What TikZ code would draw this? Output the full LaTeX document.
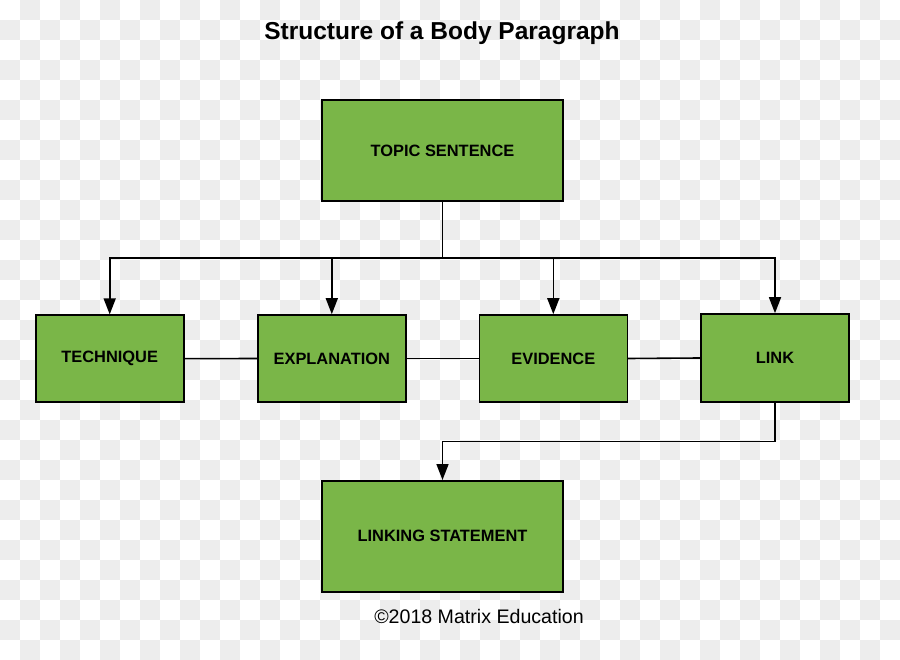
\documentclass[tikz,border=0pt]{standalone}
\usepackage{fontspec}
\setmainfont{Liberation Sans}
\usepackage{tikz}
\usetikzlibrary{arrows.meta,positioning,calc}
\usepackage{xcolor}
\definecolor{boxgreen}{HTML}{7AB648}
\definecolor{checkgray}{HTML}{EDEDED}

\begin{document}
\begin{tikzpicture}[x=1pt, y=-1pt,
    part/.style={draw, fill=boxgreen, line width=1.6pt, minimum width=148pt, minimum height=87pt,
                 font=\bfseries\fontsize{16.4}{19}\selectfont},
    bigpart/.style={part, minimum width=241pt},
    link/.style={line width=1.6pt},
    arr/.style={link, -{Triangle[width=12pt,length=16pt]}}]
                    \useasboundingbox (0,0) rectangle (900,660);
                    \fill[white] (0,0) rectangle (900,660);
                    \foreach \i in {0,...,44}
                      \foreach \j in {0,...,32}
                        {\pgfmathtruncatemacro{\odd}{mod(\i+\j,2)}
                         \ifnum\odd=1 \fill[checkgray] (20*\i,20*\j) rectangle ++(20,20); \fi}
                    \node[anchor=base, font=\bfseries\fontsize{24.5}{28}\selectfont] (Title) at (442,39.3) {Structure of a Body Paragraph};
                    \node[bigpart, minimum height=101pt] (Topic) at (442.5,150.5) {TOPIC SENTENCE};
                    \node[part] (Technique) at (109.7,358.7) {TECHNIQUE};
                    \node[part] (Explanation) at (331.8,358.5) {EXPLANATION};
                    \node[part] (Evidence) at (553.3,358.5) {EVIDENCE};
                    \node[part, minimum height=88pt] (Link) at (775,358) {LINK};
                    \node[bigpart, minimum height=111pt] (Linking) at (442.5,536.3) {LINKING STATEMENT};
                    \node[anchor=base, font=\fontsize{19.6}{23}\selectfont] (Copy) at (479,623) {\textcopyright2018 Matrix Education};
                    \coordinate (Split) at (442.5,258.3);
                    \draw[link] (Topic.south) -- (Split);
                    \draw[arr] (Split) -| (Technique.north);
                    \draw[arr] (Split) -| (Explanation.north);
                    \draw[arr] (Split) -| (Evidence.north);
                    \draw[arr] (Split) -| (Link.north);
                    \draw[link] (Technique.east) -- (Explanation.west);
                    \draw[link] (Explanation.east) -- (Evidence.west);
                    \draw[link] (Evidence.east) -- (Link.west);
                    \coordinate (Turn) at (775,441.3);
                    \draw[arr] (Link.south) -- (Turn) -| (Linking.north);
                \end{tikzpicture}
\end{document}
